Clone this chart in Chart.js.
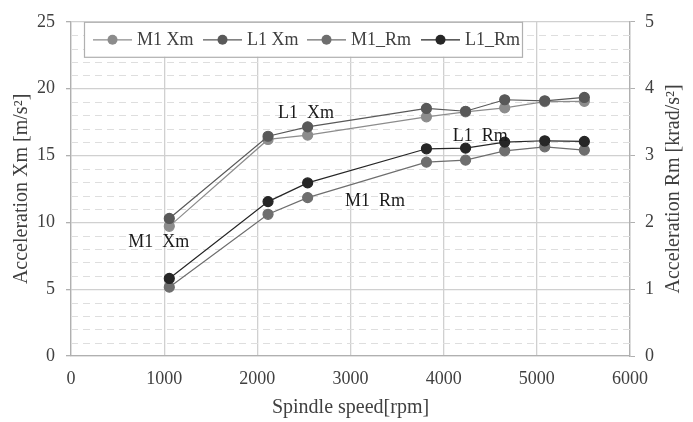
<!DOCTYPE html>
<html lang="en">
<head>
<meta charset="UTF-8">
<title>Acceleration vs spindle speed</title>
<script src="https://cdn.jsdelivr.net/npm/chart.js"></script>
<style>
  html, body { margin: 0; padding: 0; background: #fff; }
  #wrap { width: 693px; height: 422px; position: relative; }
</style>
</head>
<body>
<div id="wrap"><canvas id="chart"></canvas></div>
<script>
// spindle speeds (rpm)
const speeds = [1055, 2115, 2540, 3815, 4235, 4655, 5085, 5510];
// left axis, m/s^2
const m1Xm = [9.70, 16.20, 16.52, 17.89, 18.26, 18.56, 19.03, 19.05];
const l1Xm = [10.29, 16.44, 17.14, 18.52, 18.31, 19.17, 19.09, 19.34];
// right axis, krad/s^2
const m1Rm = [1.03, 2.12, 2.37, 2.90, 2.93, 3.07, 3.13, 3.08];
const l1Rm = [1.16, 2.31, 2.59, 3.10, 3.11, 3.20, 3.22, 3.21];

const seriesNames = ['M1 Xm', 'L1 Xm', 'M1_Rm', 'L1_Rm'];
const seriesColors = ['#8c8c8c', '#595959', '#6e6e6e', '#262626'];

// text labels written on the plot (x in rpm, y on left axis)
const noteTexts = ['M1  Xm', 'L1  Xm', 'M1  Rm', 'L1  Rm'];
const noteX = [615, 2222, 2941, 4097];
const noteY = [8.54, 18.17, 11.56, 16.4];

const FONT = '"Liberation Serif", "Times New Roman", serif';

function pts(ys) {
    return speeds.map((s, i) => ({ x: s, y: ys[i] }));
}

function makeSet(idx, ys, axis, order) {
    return {
        label: seriesNames[idx],
        data: pts(ys),
        yAxisID: axis,
        borderColor: seriesColors[idx],
        backgroundColor: seriesColors[idx],
        pointBackgroundColor: seriesColors[idx],
        pointBorderColor: seriesColors[idx],
        borderWidth: 1.2,
        pointRadius: 5,
        pointHoverRadius: 5,
        showLine: true,
        tension: 0,
        order: order
    };
}

// dashed minor lines every 1 unit on the left axis
const minorGrid = {
    id: 'minorGrid',
    beforeDatasetsDraw(chart) {
        const { ctx, chartArea: a, scales: { y } } = chart;
        ctx.save();
        ctx.strokeStyle = '#dedede';
        ctx.lineWidth = 1;
        ctx.setLineDash([7, 5]);
        for (let v = y.min + 1; v < y.max; v++) {
            if (v % 5 === 0) continue;
            const py = Math.round(y.getPixelForValue(v)) + 0.5;
            ctx.beginPath();
            ctx.moveTo(a.left, py);
            ctx.lineTo(a.right, py);
            ctx.stroke();
        }
        ctx.restore();
    }
};

// in-plot notes, right axis title and boxed legend
const extras = {
    id: 'extras',
    afterDraw(chart) {
        const { ctx, chartArea: a, scales: { x, y } } = chart;
        ctx.save();
        ctx.font = '18px ' + FONT;
        ctx.fillStyle = '#1a1a1a';
        ctx.textAlign = 'left';
        ctx.textBaseline = 'middle';
        noteTexts.forEach((t, i) => {
            ctx.fillText(t, x.getPixelForValue(noteX[i]), y.getPixelForValue(noteY[i]));
        });

        // right title, reading bottom to top
        ctx.save();
        ctx.translate(674, (a.top + a.bottom) / 2);
        ctx.rotate(-Math.PI / 2);
        ctx.font = '20px ' + FONT;
        ctx.fillStyle = '#404040';
        ctx.textAlign = 'center';
        ctx.fillText('Acceleration Rm [krad/s\u00B2]', 0, 0);
        ctx.restore();

        // legend box
        const bx = a.left + 13, by = a.top, bw = 438, bh = 35;
        ctx.fillStyle = '#fff';
        ctx.fillRect(bx, by, bw, bh);
        ctx.strokeStyle = '#b0b0b0';
        ctx.lineWidth = 1.2;
        ctx.strokeRect(bx + 0.5, by + 0.5, bw, bh);
        const starts = [93, 203, 307, 421];
        const cy = by + bh / 2 + 0.5;
        ctx.font = '18px ' + FONT;
        ctx.textBaseline = 'middle';
        seriesNames.forEach((n, i) => {
            const s = starts[i];
            ctx.strokeStyle = seriesColors[i];
            ctx.lineWidth = 1.2;
            ctx.beginPath();
            ctx.moveTo(s, cy);
            ctx.lineTo(s + 39, cy);
            ctx.stroke();
            ctx.fillStyle = seriesColors[i];
            ctx.beginPath();
            ctx.arc(s + 19.5, cy, 5, 0, Math.PI * 2);
            ctx.fill();
            ctx.fillStyle = '#404040';
            ctx.fillText(n, s + 44, cy);
        });
        ctx.restore();
    }
};

const ctx = document.getElementById('chart').getContext('2d');
new Chart(ctx, {
    type: 'scatter',
    data: {
        datasets: [
            makeSet(0, m1Xm, 'y', 4),
            makeSet(1, l1Xm, 'y', 3),
            makeSet(2, m1Rm, 'y2', 2),
            makeSet(3, l1Rm, 'y2', 1)
        ]
    },
    options: {
        responsive: true,
        maintainAspectRatio: false,
        animation: false,
        layout: { padding: { top: 16.5, left: 0, right: 0, bottom: 0 } },
        plugins: {
            legend: { display: false },
            tooltip: { enabled: false }
        },
        scales: {
            x: {
                type: 'linear',
                min: 0,
                max: 6000,
                ticks: {
                    stepSize: 1000, padding: 12, color: '#404040',
                    font: { family: FONT, size: 18 },
                    callback: v => String(v)
                },
                grid: { color: '#d0d0d0', lineWidth: 1.3, drawTicks: false },
                border: { color: '#b0b0b0', width: 1.3 },
                title: {
                    display: true,
                    text: 'Spindle speed[rpm]',
                    color: '#404040',
                    font: { family: FONT, size: 20, lineHeight: 1.2 },
                    padding: { top: 0, bottom: 2 }
                },
                afterFit(s) { s.height = 66; }
            },
            y: {
                position: 'left',
                min: 0,
                max: 25,
                ticks: { stepSize: 5, padding: 11, color: '#404040', font: { family: FONT, size: 18 } },
                grid: { color: '#d0d0d0', lineWidth: 1.3, tickLength: 5, tickColor: '#b0b0b0' },
                border: { color: '#b0b0b0', width: 1.3 },
                title: {
                    display: true,
                    text: 'Acceleration Xm [m/s\u00B2]',
                    color: '#404040',
                    font: { family: FONT, size: 20, lineHeight: 1.2 },
                    padding: { top: 10, bottom: 0 }
                },
                afterFit(s) { s.width = 71; }
            },
            y2: {
                position: 'right',
                min: 0,
                max: 5,
                ticks: { stepSize: 1, padding: 10, color: '#404040', font: { family: FONT, size: 18 } },
                grid: { drawOnChartArea: false, tickLength: 5, tickColor: '#b0b0b0' },
                border: { color: '#b0b0b0', width: 1.3 },
                afterFit(s) { s.width = 63; }
            }
        }
    },
    plugins: [minorGrid, extras]
});
</script>
</body>
</html>
